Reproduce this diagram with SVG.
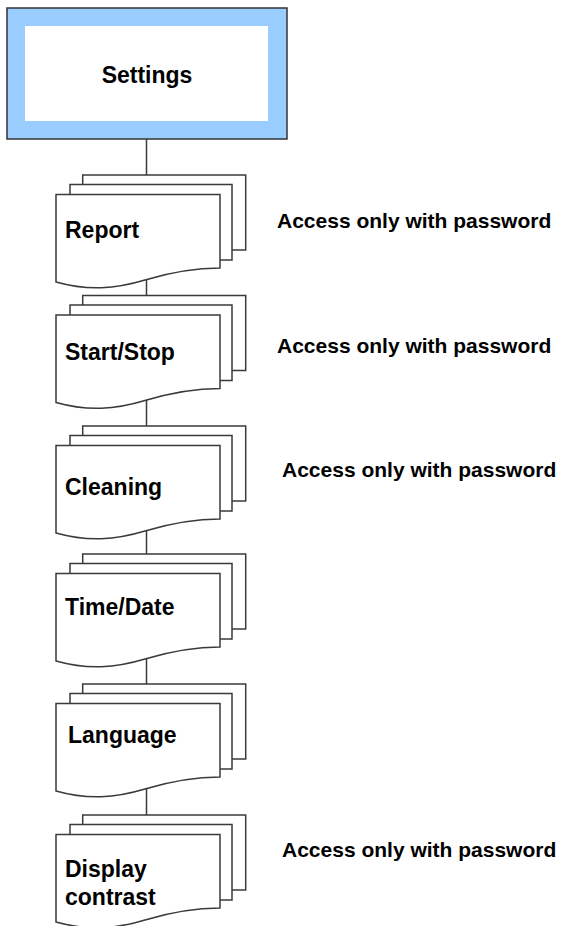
<svg xmlns="http://www.w3.org/2000/svg" width="561" height="926" viewBox="0 0 561 926">
<style>
.pg{fill:#fff;stroke:#3a3a3a;stroke-width:1.5}
.lbl{font-family:"Liberation Sans",Arial,sans-serif;font-weight:bold;font-size:23px;fill:#000}
.acc{font-family:"Liberation Sans",Arial,sans-serif;font-weight:bold;font-size:21px;fill:#000}
.con{stroke:#3a3a3a;stroke-width:1.5;fill:none}
</style>
<defs>
<g id="stack">
<rect class="pg" x="82.7" y="0" width="163" height="75"/>
<rect class="pg" x="70" y="9.5" width="162" height="75.5"/>
<path class="pg" d="M56,19.5 H220 V93 C200,93 175,96 145,105 C115,114 88,116 56,107 Z"/>
</g>
</defs>
<g id="connectors">
<line class="con" x1="146.5" y1="139" x2="146.5" y2="815"/>
</g>
<g id="settings">
<rect x="7" y="8" width="280" height="131" fill="#99CCFF" stroke="#333" stroke-width="1.5"/>
<rect x="25" y="26" width="243" height="95" fill="#fff"/>
<text class="lbl" x="147" y="83" text-anchor="middle">Settings</text>
</g>
<g id="report">
<use href="#stack" transform="translate(0,175)"/>
<text class="lbl" x="65" y="238">Report</text>
</g>
<g id="startstop">
<use href="#stack" transform="translate(0,295.5)"/>
<text class="lbl" x="65" y="360">Start/Stop</text>
</g>
<g id="cleaning">
<use href="#stack" transform="translate(0,426)"/>
<text class="lbl" x="65" y="495">Cleaning</text>
</g>
<g id="timedate">
<use href="#stack" transform="translate(0,554)"/>
<text class="lbl" x="65" y="615">Time/Date</text>
</g>
<g id="language">
<use href="#stack" transform="translate(0,684)"/>
<text class="lbl" x="68" y="743">Language</text>
</g>
<g id="display">
<use href="#stack" transform="translate(0,815)"/>
<text class="lbl" x="65" y="877">Display</text>
<text class="lbl" x="65" y="905">contrast</text>
</g>
<g id="notes">
<text class="acc" x="277" y="228">Access only with password</text>
<text class="acc" x="277" y="353">Access only with password</text>
<text class="acc" x="282" y="477">Access only with password</text>
<text class="acc" x="282" y="857">Access only with password</text>
</g>
</svg>
